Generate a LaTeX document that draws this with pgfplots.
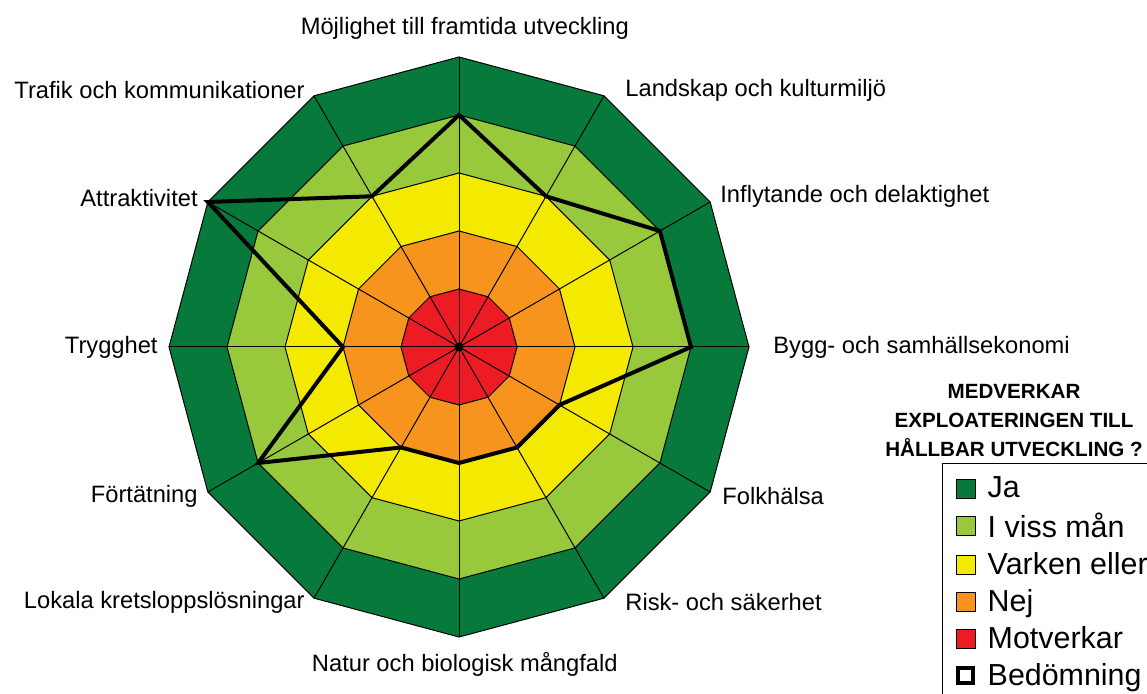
\documentclass[border=0pt]{standalone}
\usepackage{fontspec}
\setmainfont{Liberation Sans}
\usepackage{pgfplots}
\pgfplotsset{compat=1.18}
\definecolor{ja}{HTML}{077A3B}
\definecolor{viss}{HTML}{98C93C}
\definecolor{varken}{HTML}{F4E900}
\definecolor{nej}{HTML}{F7941D}
\definecolor{mot}{HTML}{ED1C24}
\newcommand\lbl{\fontsize{11.85}{13}\selectfont}
\tikzset{lab/.style={font=\lbl, inner sep=0pt}}
\begin{document}
\begin{tikzpicture}
\useasboundingbox (0,0) rectangle (573.5pt,346.5pt);
\clip (0,0) rectangle (573.5pt,346.5pt);
\begin{axis}[
  at={(0pt,0pt)}, anchor=south west,
  scale only axis, width=573.5pt, height=346.5pt,
  xmin=-7.9138, xmax=11.8621, ymin=-5.9655, ymax=5.9828,
  hide axis, clip=false,
  legend style={at={(axis cs:8.33,-2.0)}, anchor=north west, draw=black, line width=0.6pt,
    font=\fontsize{15.2}{15.2}\selectfont, inner xsep=6.5pt, inner ysep=4.5pt, row sep=2pt,
    /tikz/every odd column/.append style={column sep=4pt}},
  legend cell align=left,
  legend image code/.code={\draw[#1, line width=0.5pt] (0pt,-4.75pt) rectangle (9.5pt,4.75pt);},
]
\addplot[data cs=polar, fill=ja, draw=black, line width=0.5pt] coordinates {(90,5) (60,5) (30,5) (0,5) (-30,5) (-60,5) (-90,5) (-120,5) (-150,5) (180,5) (150,5) (120,5)} -- cycle;
\addlegendentry{Ja}
\addplot[data cs=polar, fill=viss, draw=black, line width=0.5pt] coordinates {(90,4) (60,4) (30,4) (0,4) (-30,4) (-60,4) (-90,4) (-120,4) (-150,4) (180,4) (150,4) (120,4)} -- cycle;
\addlegendentry{I viss mån}
\addplot[data cs=polar, fill=varken, draw=black, line width=0.5pt] coordinates {(90,3) (60,3) (30,3) (0,3) (-30,3) (-60,3) (-90,3) (-120,3) (-150,3) (180,3) (150,3) (120,3)} -- cycle;
\addlegendentry{Varken eller}
\addplot[data cs=polar, fill=nej, draw=black, line width=0.5pt] coordinates {(90,2) (60,2) (30,2) (0,2) (-30,2) (-60,2) (-90,2) (-120,2) (-150,2) (180,2) (150,2) (120,2)} -- cycle;
\addlegendentry{Nej}
\addplot[data cs=polar, fill=mot, draw=black, line width=0.5pt] coordinates {(90,1) (60,1) (30,1) (0,1) (-30,1) (-60,1) (-90,1) (-120,1) (-150,1) (180,1) (150,1) (120,1)} -- cycle;
\addlegendentry{Motverkar}
% spokes
\addplot[data cs=polar, black, line width=0.5pt, forget plot] coordinates {(90,5) (-90,5)};
\addplot[data cs=polar, black, line width=0.5pt, forget plot] coordinates {(60,5) (-120,5)};
\addplot[data cs=polar, black, line width=0.5pt, forget plot] coordinates {(30,5) (-150,5)};
\addplot[data cs=polar, black, line width=0.5pt, forget plot] coordinates {(0,5) (180,5)};
\addplot[data cs=polar, black, line width=0.5pt, forget plot] coordinates {(-30,5) (150,5)};
\addplot[data cs=polar, black, line width=0.5pt, forget plot] coordinates {(-60,5) (120,5)};
% assessment
\addplot[data cs=polar, black, line width=2pt, line join=miter,
  legend image code/.code={\draw[black, line width=2pt, fill=white] (1pt,-3.75pt) rectangle (8.5pt,3.75pt);}]
  coordinates {(90,4) (60,3) (30,4) (0,4) (-30,2) (-60,2) (-90,2) (-120,2) (-150,4) (180,2) (150,5) (120,3)} -- cycle;
\addlegendentry{Bedömning}
\addplot[only marks, mark=*, mark size=2pt, black, forget plot] coordinates {(0,0)};
% labels
\node[lab] at (axis cs:0.10,5.50) {Möjlighet till framtida utveckling};
\node[lab, anchor=west] at (axis cs:2.862,4.431) {Landskap och kulturmiljö};
\node[lab, anchor=west] at (axis cs:4.5,2.603) {Inflytande och delaktighet};
\node[lab, anchor=west] at (axis cs:5.414,0) {Bygg- och samhällsekonomi};
\node[lab, anchor=west] at (axis cs:4.534,-2.569) {Folkhälsa};
\node[lab, anchor=west] at (axis cs:2.862,-4.397) {Risk- och säkerhet};
\node[lab] at (axis cs:0.10,-5.466) {Natur och biologisk mångfald};
\node[lab, anchor=east] at (axis cs:-2.655,-4.397) {Lokala kretsloppslösningar};
\node[lab, anchor=east] at (axis cs:-4.5,-2.569) {Förtätning};
\node[lab, anchor=east] at (axis cs:-5.19,0) {Trygghet};
\node[lab, anchor=east] at (axis cs:-4.5,2.569) {Attraktivitet};
\node[lab, anchor=east] at (axis cs:-2.655,4.431) {Trafik och kommunikationer};
\node[align=center, font=\bfseries\fontsize{10.3}{14.5}\selectfont] at (axis cs:9.569,-1.259) {MEDVERKAR\\EXPLOATERINGEN TILL\\HÅLLBAR UTVECKLING ?};
\end{axis}
\end{tikzpicture}
\end{document}
